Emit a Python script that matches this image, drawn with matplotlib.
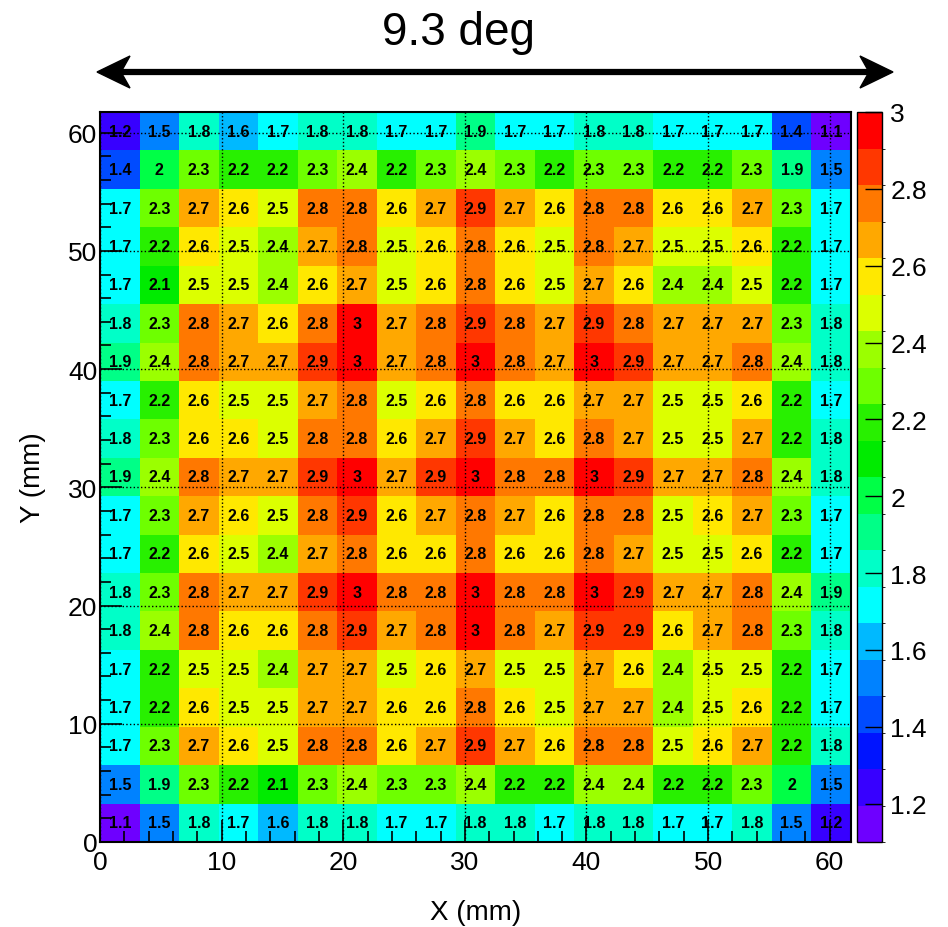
import matplotlib.pyplot as plt
import numpy as np
from matplotlib.colors import ListedColormap, BoundaryNorm
from matplotlib.patches import Polygon
from matplotlib.lines import Line2D
from matplotlib.ticker import MultipleLocator, FuncFormatter

plt.rcParams['font.family'] = ['Liberation Sans', 'DejaVu Sans']

# cell values, rows listed from top (Y ~ 60 mm) to bottom (Y ~ 0 mm)
dose = [
    [1.2, 1.5, 1.8, 1.6, 1.7, 1.8, 1.8, 1.7, 1.7, 1.9, 1.7, 1.7, 1.8, 1.8, 1.7, 1.7, 1.7, 1.4, 1.1],
    [1.4, 2.0, 2.3, 2.2, 2.2, 2.3, 2.4, 2.2, 2.3, 2.4, 2.3, 2.2, 2.3, 2.3, 2.2, 2.2, 2.3, 1.9, 1.5],
    [1.7, 2.3, 2.7, 2.6, 2.5, 2.8, 2.8, 2.6, 2.7, 2.9, 2.7, 2.6, 2.8, 2.8, 2.6, 2.6, 2.7, 2.3, 1.7],
    [1.7, 2.2, 2.6, 2.5, 2.4, 2.7, 2.8, 2.5, 2.6, 2.8, 2.6, 2.5, 2.8, 2.7, 2.5, 2.5, 2.6, 2.2, 1.7],
    [1.7, 2.1, 2.5, 2.5, 2.4, 2.6, 2.7, 2.5, 2.6, 2.8, 2.6, 2.5, 2.7, 2.6, 2.4, 2.4, 2.5, 2.2, 1.7],
    [1.8, 2.3, 2.8, 2.7, 2.6, 2.8, 3.0, 2.7, 2.8, 2.9, 2.8, 2.7, 2.9, 2.8, 2.7, 2.7, 2.7, 2.3, 1.8],
    [1.9, 2.4, 2.8, 2.7, 2.7, 2.9, 3.0, 2.7, 2.8, 3.0, 2.8, 2.7, 3.0, 2.9, 2.7, 2.7, 2.8, 2.4, 1.8],
    [1.7, 2.2, 2.6, 2.5, 2.5, 2.7, 2.8, 2.5, 2.6, 2.8, 2.6, 2.6, 2.7, 2.7, 2.5, 2.5, 2.6, 2.2, 1.7],
    [1.8, 2.3, 2.6, 2.6, 2.5, 2.8, 2.8, 2.6, 2.7, 2.9, 2.7, 2.6, 2.8, 2.7, 2.5, 2.5, 2.7, 2.2, 1.8],
    [1.9, 2.4, 2.8, 2.7, 2.7, 2.9, 3.0, 2.7, 2.9, 3.0, 2.8, 2.8, 3.0, 2.9, 2.7, 2.7, 2.8, 2.4, 1.8],
    [1.7, 2.3, 2.7, 2.6, 2.5, 2.8, 2.9, 2.6, 2.7, 2.8, 2.7, 2.6, 2.8, 2.8, 2.5, 2.6, 2.7, 2.3, 1.7],
    [1.7, 2.2, 2.6, 2.5, 2.4, 2.7, 2.8, 2.6, 2.6, 2.8, 2.6, 2.6, 2.8, 2.7, 2.5, 2.5, 2.6, 2.2, 1.7],
    [1.8, 2.3, 2.8, 2.7, 2.7, 2.9, 3.0, 2.8, 2.8, 3.0, 2.8, 2.8, 3.0, 2.9, 2.7, 2.7, 2.8, 2.4, 1.9],
    [1.8, 2.4, 2.8, 2.6, 2.6, 2.8, 2.9, 2.7, 2.8, 3.0, 2.8, 2.7, 2.9, 2.9, 2.6, 2.7, 2.8, 2.3, 1.8],
    [1.7, 2.2, 2.5, 2.5, 2.4, 2.7, 2.7, 2.5, 2.6, 2.7, 2.5, 2.5, 2.7, 2.6, 2.4, 2.5, 2.5, 2.2, 1.7],
    [1.7, 2.2, 2.6, 2.5, 2.5, 2.7, 2.7, 2.6, 2.6, 2.8, 2.6, 2.5, 2.7, 2.7, 2.4, 2.5, 2.6, 2.2, 1.7],
    [1.7, 2.3, 2.7, 2.6, 2.5, 2.8, 2.8, 2.6, 2.7, 2.9, 2.7, 2.6, 2.8, 2.8, 2.5, 2.6, 2.7, 2.2, 1.8],
    [1.5, 1.9, 2.3, 2.2, 2.1, 2.3, 2.4, 2.3, 2.3, 2.4, 2.2, 2.2, 2.4, 2.4, 2.2, 2.2, 2.3, 2.0, 1.5],
    [1.1, 1.5, 1.8, 1.7, 1.6, 1.8, 1.8, 1.7, 1.7, 1.8, 1.8, 1.7, 1.8, 1.8, 1.7, 1.7, 1.8, 1.5, 1.2],
]
bin_width = 3.25  # mm
z_min, z_max = 1.1, 3.0
n_levels = 20
cbar_ticks = [1.2, 1.4, 1.6, 1.8, 2.0, 2.2, 2.4, 2.6, 2.8, 3.0]

# ROOT-like rainbow palette, bottom to top
palette = [
    (110, 0, 255), (55, 0, 255), (0, 20, 255), (0, 75, 255), (0, 130, 255),
    (0, 185, 255), (0, 255, 255), (0, 255, 200), (0, 255, 135), (0, 255, 70),
    (0, 235, 0), (40, 240, 0), (110, 255, 0), (155, 255, 0), (220, 255, 0),
    (255, 232, 0), (255, 168, 0), (255, 120, 0), (255, 55, 0), (255, 0, 0),
]
cmap = ListedColormap([(r / 255, g / 255, b / 255) for r, g, b in palette])

z = np.array(dose)[::-1]  # bottom row first
nx = z.shape[1]
ny = z.shape[0]
x_edges = np.arange(nx + 1) * bin_width
y_edges = np.arange(ny + 1) * bin_width
norm = BoundaryNorm(np.linspace(z_min, z_max, n_levels + 1), cmap.N)

W, H = 948, 928
fig = plt.figure(figsize=(W / 100, H / 100), dpi=100)
ax = fig.add_axes([100 / W, 85 / H, 751 / W, 730 / H])
mesh = ax.pcolormesh(x_edges, y_edges, z, cmap=cmap, norm=norm)

# cell labels
xc = (x_edges[:-1] + x_edges[1:]) / 2
yc = (y_edges[:-1] + y_edges[1:]) / 2
for j in range(ny):
    for i in range(nx):
        ax.text(xc[i], yc[j], f'{z[j, i]:g}', ha='center', va='center',
                fontsize=11.5, fontweight='bold', color='black', zorder=4)

ax.set_xlim(x_edges[0], x_edges[-1])
ax.set_ylim(y_edges[0], y_edges[-1])
ax.xaxis.set_major_locator(MultipleLocator(10))
ax.yaxis.set_major_locator(MultipleLocator(10))
ax.xaxis.set_minor_locator(MultipleLocator(2))
ax.yaxis.set_minor_locator(MultipleLocator(2))
ax.tick_params(which='major', direction='in', length=16, width=1.2, labelsize=19)
ax.tick_params(axis='x', which='major', pad=6)
ax.tick_params(axis='y', which='major', pad=2)
ax.tick_params(which='minor', direction='in', length=8, width=1.2)
ax.grid(True, which='major', linestyle=':', color='black', linewidth=1.0, zorder=3)
ax.set_axisbelow(False)
for s in ax.spines.values():
    s.set_linewidth(1.5)
ax.set_xlabel('X (mm)', fontsize=20, labelpad=18)
ax.set_ylabel('Y (mm)', fontsize=20, labelpad=16)

# colour scale
cax = fig.add_axes([857 / W, 85 / H, 25 / W, 730 / H])
cb = fig.colorbar(mesh, cax=cax, ticks=cbar_ticks)
cb.ax.yaxis.set_major_formatter(FuncFormatter(lambda v, p: f'{round(v, 1):g}'))
cb.ax.tick_params(direction='in', length=12, width=1.0, labelsize=19, pad=6)
cb.outline.set_linewidth(1.0)

# angular span annotation: double arrow with notched heads
ya = H - 73
xl, xr = 97, 893
hl, hw, notch = 33, 16, 24


def fx(px):
    return px / W


def fy(py):
    return py / H


fig.lines.append(Line2D([fx(xl + notch), fx(xr - notch)], [fy(ya), fy(ya)],
                        transform=fig.transFigure, color='black', lw=4.5,
                        solid_capstyle='butt'))
for tip, sgn in ((xl, 1), (xr, -1)):
    head = Polygon([(fx(tip), fy(ya)),
                    (fx(tip + sgn * hl), fy(ya + hw)),
                    (fx(tip + sgn * notch), fy(ya)),
                    (fx(tip + sgn * hl), fy(ya - hw))],
                   closed=True, transform=fig.transFigure,
                   facecolor='black', edgecolor='black', lw=1)
    fig.patches.append(head)

fig.text(458 / W, 1 - 33 / H, '9.3 deg', ha='center', va='center', fontsize=33)

fig.savefig('out.png', dpi=100)
